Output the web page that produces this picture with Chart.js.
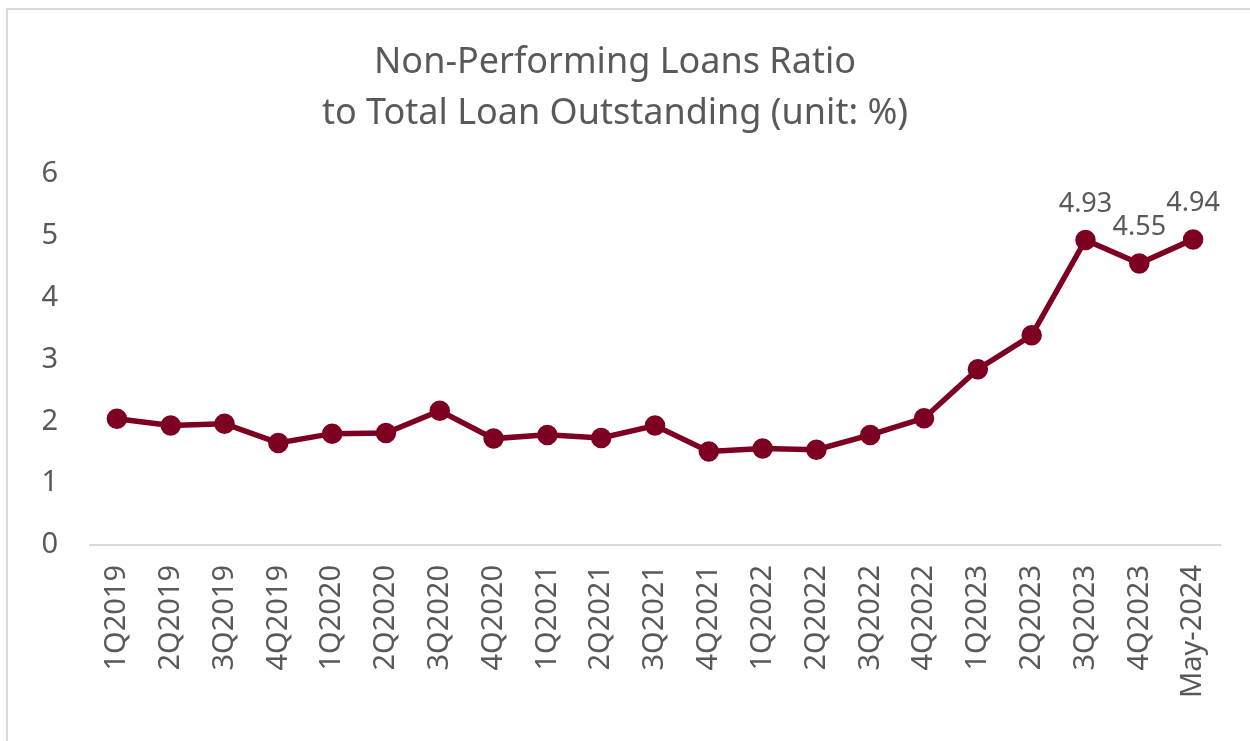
<!DOCTYPE html>
<html>
<head>
<meta charset="utf-8">
<script src="https://cdn.jsdelivr.net/npm/chart.js@4"></script>
<style>
  html, body { margin: 0; padding: 0; background: #fff; }
  #frame {
    position: absolute; left: 6px; top: 8px; width: 1300px; height: 800px;
    border-top: 2px solid #d9d9d9; border-left: 2px solid #d9d9d9;
  }
  #npl { position: absolute; left: 0; top: 0; }
</style>
</head>
<body>
<div id="frame"></div>
<canvas id="npl" width="1250" height="741"></canvas>
<script>
// quarters shown on the x axis
const quarters = ['1Q2019', '2Q2019', '3Q2019', '4Q2019', '1Q2020', '2Q2020', '3Q2020', '4Q2020',
    '1Q2021', '2Q2021', '3Q2021', '4Q2021', '1Q2022', '2Q2022', '3Q2022', '4Q2022',
    '1Q2023', '2Q2023', '3Q2023', '4Q2023', 'May-2024'];
// NPL ratio, %
const nplRatio = [2.04, 1.93, 1.96, 1.65, 1.80, 1.81, 2.17, 1.72, 1.78, 1.73, 1.93, 1.51,
    1.56, 1.54, 1.78, 2.05, 2.84, 3.39, 4.93, 4.55, 4.94];
// only the last three points carry a value label
const labelledPoints = [18, 19, 20];
const yTicks = [0, 1, 2, 3, 4, 5, 6];

const grey = '#595959';
const maroon = '#7d0022';
const fontFamily = '"Noto Sans", "Open Sans", sans-serif';

const pointLabels = {
    id: 'pointLabels',
    afterDatasetsDraw(chart) {
        const ctx = chart.ctx;
        const meta = chart.getDatasetMeta(0);
        ctx.save();
        ctx.font = '27px ' + fontFamily;
        ctx.fillStyle = grey;
        ctx.textAlign = 'center';
        ctx.textBaseline = 'middle';
        labelledPoints.forEach(i => {
            const p = meta.data[i];
            ctx.fillText(nplRatio[i].toFixed(2), p.x, p.y - 36);
        });
        ctx.restore();
    }
};

const ctx = document.getElementById('npl').getContext('2d');
const nplChart = new Chart(ctx, {
    type: 'line',
    data: {
        labels: quarters,
        datasets: [{
            data: nplRatio,
            borderColor: maroon,
            backgroundColor: maroon,
            borderWidth: 5.5,
            pointRadius: 7.5,
            pointHoverRadius: 7.5,
            tension: 0
        }]
    },
    plugins: [pointLabels],
    options: {
        responsive: false,
        animation: false,
        layout: { padding: { top: 38, left: 10, right: 30, bottom: 0 } },
        plugins: {
            legend: { display: false },
            tooltip: { enabled: false },
            title: {
                display: true,
                text: ['Non-Performing Loans Ratio', 'to Total Loan Outstanding (unit: %)'],
                color: grey,
                font: { family: fontFamily, size: 36, weight: 'normal', lineHeight: 1.4 },
                padding: { top: 0, bottom: 35 }
            }
        },
        scales: {
            x: {
                offset: true,
                grid: { display: false, drawTicks: false },
                border: { display: true, color: '#d9d9d9', width: 2 },
                ticks: {
                    color: grey,
                    font: { family: fontFamily, size: 29 },
                    minRotation: 90,
                    maxRotation: 90,
                    padding: 20,
                    autoSkip: false
                },
                afterFit(scale) { scale.height = 196; }
            },
            y: {
                min: 0,
                max: 6,
                afterBuildTicks(scale) { scale.ticks = yTicks.map(v => ({ value: v })); },
                grid: { display: false, drawTicks: false },
                border: { display: false },
                ticks: {
                    color: grey,
                    font: { family: fontFamily, size: 29 },
                    padding: 32
                },
                afterFit(scale) { scale.width = 80; }
            }
        }
    }
});
</script>
</body>
</html>
